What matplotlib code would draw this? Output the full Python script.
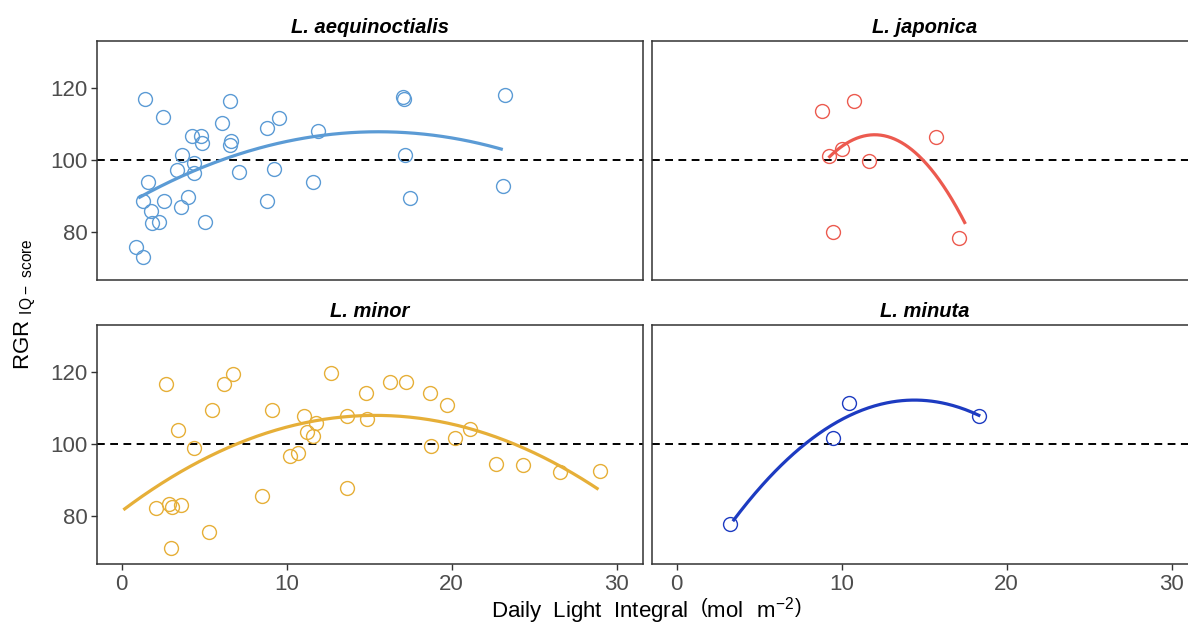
import numpy as np
import matplotlib
matplotlib.use("Agg")
import matplotlib.pyplot as plt

plt.rcParams['font.family'] = ['Liberation Sans', 'DejaVu Sans']
plt.rcParams['mathtext.fontset'] = 'custom'
plt.rcParams['mathtext.rm'] = 'Liberation Sans'

# L. aequinoctialis
aeq_x = [1.41, 2.50, 6.57, 6.06, 8.79, 9.53, 11.92, 4.28, 4.79, 4.85, 6.60, 6.57,
         3.68, 4.38, 3.33, 4.38, 7.11, 9.25, 11.60, 1.58, 1.31, 2.57, 4.00, 3.58,
         8.83, 1.76, 1.82, 2.28, 5.05, 0.87, 1.31,
         17.05, 17.09, 23.25, 17.15, 17.45, 23.10]
aeq_y = [117.0, 111.9, 116.5, 110.3, 109.0, 111.8, 108.1, 106.8, 106.8, 104.8, 105.3, 104.2,
         101.4, 99.3, 97.2, 96.5, 96.6, 97.4, 94.0, 93.9, 88.7, 88.7, 89.7, 86.9,
         88.7, 85.8, 82.6, 82.9, 82.9, 76.0, 73.0,
         117.6, 116.9, 118.0, 101.3, 89.5, 92.8]

# L. japonica
jap_x = [8.78, 10.75, 9.20, 10.02, 11.68, 15.73, 9.50, 17.14]
jap_y = [113.6, 116.5, 101.1, 103.2, 99.8, 106.3, 79.9, 78.5]

# L. minor
min_x = [2.71, 6.73, 6.20, 5.45, 9.13, 12.67, 14.79, 3.41, 4.38, 11.05, 11.76, 11.25,
         11.60, 13.68, 14.89, 10.20, 10.70, 13.68, 8.53, 2.08, 2.87, 3.03, 3.62, 5.29,
         2.97, 16.28, 17.25, 18.67, 19.72, 21.09, 20.18, 18.72, 22.71, 24.30, 26.55, 29.00]
min_y = [116.8, 119.5, 116.8, 109.4, 109.4, 119.7, 114.2, 103.8, 99.0, 107.7, 105.9, 103.3,
         102.3, 107.7, 107.0, 96.7, 97.6, 87.9, 85.6, 82.3, 83.4, 82.5, 83.0, 75.6,
         71.1, 117.4, 117.4, 114.2, 111.0, 104.3, 101.6, 99.6, 94.4, 94.3, 92.2, 92.4]

# L. minuta
mnt_x = [3.24, 10.44, 9.46, 18.32]
mnt_y = [77.9, 111.5, 101.7, 107.8]

species = ["L. aequinoctialis", "L. japonica", "L. minor", "L. minuta"]
colors = ["#5B9BD5", "#EC5A4F", "#E6AF38", "#1D3BC1"]
fit_range = [(1.0, 23.1), (9.2, 17.5), (0.1, 28.9), (3.4, 18.4)]
xs = [aeq_x, jap_x, min_x, mnt_x]
ys = [aeq_y, jap_y, min_y, mnt_y]

fig = plt.figure(figsize=(11.88, 6.29), dpi=100)
W, H = 1188, 629
lefts = [97, 652, 97, 652]
tops = [41, 41, 325, 325]
pw, ph = 546, 239

for i in range(4):
    ax = fig.add_axes([lefts[i] / W, 1 - (tops[i] + ph) / H, pw / W, ph / H])
    x = np.array(xs[i])
    y = np.array(ys[i])
    ax.axhline(100, color="black", linestyle=(0, (4, 2.8)), linewidth=1.4, zorder=1)
    ax.plot(x, y, "o", markerfacecolor="none", markeredgecolor=colors[i],
            markersize=10, markeredgewidth=1.0, zorder=2)
    coef = np.polyfit(x, y, 2)
    xf = np.linspace(fit_range[i][0], fit_range[i][1], 200)
    ax.plot(xf, np.polyval(coef, xf), color=colors[i], linewidth=2.3, zorder=3,
            solid_capstyle="butt")
    ax.set_xlim(-1.5, 31.6)
    ax.set_ylim(66.7, 133.1)
    ax.set_xticks([0, 10, 20, 30])
    ax.set_yticks([80, 100, 120])
    for s in ax.spines.values():
        s.set_color("#333333")
        s.set_linewidth(1.1)
    ax.tick_params(axis="both", colors="#333333", labelcolor="#4D4D4D",
                   labelsize=16, length=4, width=1.0, pad=3)
    if i % 2 == 1:
        ax.tick_params(axis="y", left=False, labelleft=False)
    if i < 2:
        ax.tick_params(axis="x", bottom=False, labelbottom=False)
    ax.set_title(species[i], fontsize=14.5, fontweight="bold", fontstyle="italic",
                 pad=6)

fig.text(25 / W, 1 - 304 / H, r'RGR $_{\mathregular{IQ-\ score}}$', rotation=90,
         fontsize=16, ha="center", va="center")
fig.text(646 / W, 1 - 611 / H,
         r'Daily  Light  Integral  $\left(\mathregular{mol\ \ m^{-2}}\right)$',
         fontsize=16, ha="center", va="center")

fig.savefig("out.png", dpi=100)
